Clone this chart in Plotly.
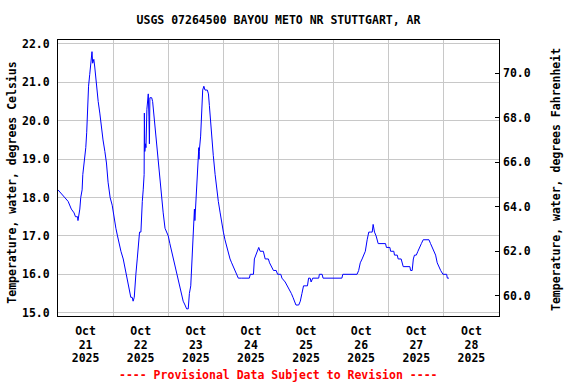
import pandas as pd
import plotly.graph_objects as go

TITLE = "USGS 07264500 BAYOU METO NR STUTTGART, AR"
START = "2025-10-21 00:00"

# hours since Oct 21 2025 00:00 and water temperature (deg C)
hours = [0.0, 1.5, 2.9, 4.4, 5.8, 7.0, 7.6, 8.5, 8.7, 9.5, 9.9, 10.5, 10.8, 11.4, 11.7,
         12.1, 12.5, 12.8, 13.3, 13.8, 14.3, 14.8, 15.1, 15.6, 16.0, 16.3, 16.9, 17.5,
         18.2, 18.9, 19.6, 20.4, 21.1, 21.8, 22.7, 23.6, 24.3, 25.2, 25.9, 26.6, 27.4,
         28.4, 29.1, 29.8, 30.5, 31.3, 31.7, 32.3, 32.7, 33.2, 33.5, 33.9, 34.5, 34.9,
         35.5, 36.1, 36.4, 36.7, 37.1, 37.5, 37.6, 37.8, 38.1, 38.3, 38.7, 39.1, 39.3,
         39.6, 39.8, 40.0, 40.8, 41.2, 41.8, 42.2, 42.9, 43.6, 44.4, 45.1, 45.8, 46.6,
         47.3, 48.0, 48.7, 49.5, 50.2, 50.9, 51.7, 52.4, 53.1, 53.8, 54.5, 55.3, 56.0,
         56.7, 57.2, 57.8, 58.2, 58.7, 59.1, 59.4, 59.6, 60.1, 60.4, 60.8, 61.3, 61.4,
         61.5, 62.1, 62.6, 63.0, 63.5, 64.0, 65.0, 65.5, 65.9, 66.5, 67.0, 67.6, 68.4,
         69.1, 69.8, 70.6, 71.3, 72.0, 72.7, 73.5, 74.2, 74.9, 75.6, 76.4, 77.1, 77.8,
         78.5, 80.0, 83.3, 83.7, 85.1, 85.5, 86.1, 86.8, 87.4, 88.0, 89.4, 90.2, 91.6,
         92.1, 93.1, 93.8, 95.0, 95.6, 97.0, 97.5, 98.9, 99.9, 100.8, 101.6, 102.3,
         102.9, 103.6, 104.8, 105.5, 106.2, 106.9, 108.6, 109.1, 109.8, 110.2, 110.9,
         113.5, 113.8, 115.0, 115.4, 123.6, 124.0, 130.2, 130.9, 131.6, 132.4, 133.1,
         133.8, 134.6, 135.3, 136.0, 136.8, 137.2, 137.8, 138.5, 139.4, 142.6, 143.0,
         144.5, 144.8, 146.2, 146.5, 147.7, 148.1, 149.4, 149.9, 150.3, 153.2, 153.5,
         154.2, 154.7, 155.2, 156.0, 156.7, 157.6, 158.2, 159.0, 161.5, 162.2, 162.9,
         163.7, 164.4, 165.1, 165.8, 166.6, 167.6, 169.2, 169.5, 170.2]
temp_c = [18.2, 18.1, 18.0, 17.9, 17.7, 17.6, 17.5, 17.5, 17.4, 17.7, 18.0, 18.2, 18.6, 18.9, 19.1,
          19.3, 19.7, 20.2, 20.9, 21.2, 21.6, 21.8, 21.5, 21.6, 21.4, 21.2, 20.9, 20.5,
          20.2, 19.8, 19.5, 19.2, 18.9, 18.4, 18.0, 17.8, 17.5, 17.2, 17.0, 16.8, 16.6,
          16.4, 16.2, 16.0, 15.8, 15.6, 15.4, 15.4, 15.3, 15.4, 15.8, 16.0, 16.4, 16.7,
          17.1, 17.1, 17.6, 17.9, 18.2, 18.6, 20.2, 19.2, 19.4, 19.3, 20.3, 20.6, 20.7,
          20.1, 19.4, 20.6, 20.6, 20.5, 20.1, 19.8, 19.4, 19.0, 18.5, 18.0, 17.6, 17.2,
          17.1, 17.0, 16.8, 16.6, 16.4, 16.2, 16.0, 15.9, 15.7, 15.5, 15.3, 15.2, 15.1,
          15.1, 15.5, 15.7, 16.2, 16.7, 17.0, 17.7, 17.4, 17.9, 18.3, 18.8, 19.3, 19.0,
          19.2, 19.6, 20.1, 20.8, 20.9, 20.8, 20.8, 20.7, 20.4, 19.9, 19.5, 19.1, 18.6,
          18.2, 17.9, 17.6, 17.3, 17.1, 16.9, 16.7, 16.6, 16.4, 16.3, 16.2, 16.1, 16.0,
          15.9, 15.9, 15.9, 16.0, 16.0, 16.4, 16.5, 16.6, 16.7, 16.6, 16.6, 16.4, 16.4,
          16.3, 16.2, 16.1, 16.1, 16.0, 16.0, 15.9, 15.8, 15.7, 15.6, 15.5, 15.4,
          15.3, 15.2, 15.2, 15.3, 15.5, 15.7, 15.7, 15.9, 15.9, 15.8, 15.9,
          15.9, 16.0, 16.0, 15.9, 15.9, 16.0, 16.0, 16.1, 16.3, 16.4, 16.5,
          16.6, 16.9, 17.1, 17.1, 17.1, 17.3, 17.1, 17.0, 16.8, 16.8, 16.7,
          16.7, 16.6, 16.6, 16.5, 16.5, 16.4, 16.4, 16.3, 16.2, 16.2, 16.1,
          16.1, 16.4, 16.5, 16.5, 16.6, 16.7, 16.8, 16.9, 16.9, 16.8, 16.7,
          16.6, 16.5, 16.3, 16.2, 16.1, 16.0, 16.0, 15.9, 15.9]

c_ticks = [15, 16, 17, 18, 19, 20, 21, 22]
f_ticks = [60, 62, 64, 66, 68, 70]
FOOTNOTE = "---- Provisional Data Subject to Revision ----"

times = pd.Timestamp(START) + pd.to_timedelta(hours, unit="h")
X_RANGE = ["2025-10-21", "2025-10-29"]

FONT = "DejaVu Sans Mono"
fnt = dict(family=FONT, size=11.5, color="black", weight="bold")

fig = go.Figure()
fig.add_trace(go.Scatter(x=times, y=temp_c, mode="lines",
                         line=dict(color="#0000ff", width=1), showlegend=False))
# invisible helper traces to activate the extra axes
fig.add_trace(go.Scatter(x=[times[0]], y=[65], yaxis="y2", mode="markers",
                         marker=dict(opacity=0), showlegend=False, hoverinfo="skip"))
for xa in ["x2", "x3"]:
    fig.add_trace(go.Scatter(x=[times[0]], y=[18], xaxis=xa, mode="markers",
                             marker=dict(opacity=0), showlegend=False, hoverinfo="skip"))

date_axis = dict(type="date", range=X_RANGE, tick0="2025-10-21", dtick=86400000,
                 ticklabelmode="period", ticks="", tickfont=fnt)

fig.update_layout(
    width=576, height=384,
    margin=dict(l=58, r=77, t=40, b=68),
    paper_bgcolor="white", plot_bgcolor="white",
    font=fnt,
    title=dict(text=TITLE, x=0.5, xref="paper", xanchor="center",
               y=1 - 20 / 384, yref="container", yanchor="middle", font=fnt),
    xaxis=dict(**date_axis, tickformat="%b", showgrid=True, gridcolor="#c8c8c8",
               gridwidth=1, showline=True, linecolor="black", linewidth=1,
               mirror=True, ticklabelstandoff=4),
    xaxis2=dict(**date_axis, tickformat="%d", overlaying="x", anchor="y",
                showgrid=False, showline=False, ticklabelstandoff=20),
    xaxis3=dict(**date_axis, tickformat="%Y", overlaying="x", anchor="y",
                showgrid=False, showline=False, ticklabelstandoff=33),
    yaxis=dict(range=[14.914, 22.104], tickvals=c_ticks, tickformat=".1f",
               showgrid=True, gridcolor="#c8c8c8", gridwidth=1, zeroline=False,
               showline=True, linecolor="black", linewidth=1, mirror=True,
               ticks="", ticklabelstandoff=5, tickfont=fnt),
    yaxis2=dict(overlaying="y", side="right", range=[59.09, 71.50],
                tickvals=f_ticks, tickformat=".1f", showgrid=False, zeroline=False,
                ticks="inside", ticklen=4, tickcolor="black", ticklabelstandoff=3,
                tickfont=fnt),
    annotations=[
        dict(text="Temperature, water, degrees Celsius", xref="paper", yref="paper",
             x=(11.7 - 58) / 441, y=(316 - 183) / 276, textangle=-90,
             showarrow=False, xanchor="center", yanchor="middle", font=fnt),
        dict(text="Temperature, water, degrees Fahrenheit", xref="paper", yref="paper",
             x=(556 - 58) / 441, y=(316 - 180) / 276, textangle=-90,
             showarrow=False, xanchor="center", yanchor="middle", font=fnt),
        dict(text=FOOTNOTE, xref="paper", yref="paper",
             x=0.5, y=(316 - 375) / 276, showarrow=False,
             xanchor="center", yanchor="middle",
             font=dict(family=FONT, size=11.5, color="#ff0000", weight="bold")),
    ],
)

fig.write_html("out.html", config={"displayModeBar": False},
               post_script="document.body.style.margin='0';")
